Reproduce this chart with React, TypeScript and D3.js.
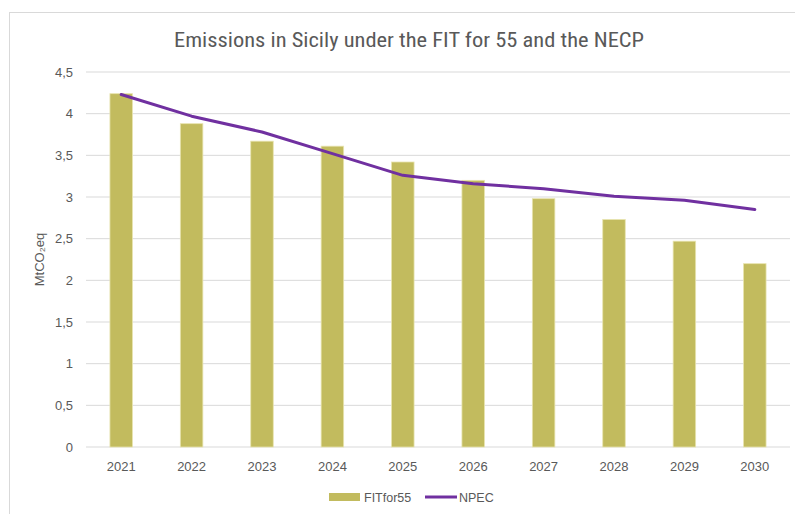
import React from "react";
import { scaleBand, scaleLinear, line } from "d3";

const years = ["2021", "2022", "2023", "2024", "2025", "2026", "2027", "2028", "2029", "2030"];
const fitFor55 = [4.24, 3.88, 3.67, 3.61, 3.42, 3.2, 2.98, 2.73, 2.47, 2.2];
const npec = [4.23, 3.97, 3.78, 3.52, 3.26, 3.16, 3.1, 3.01, 2.96, 2.85];
const yTicks = [0, 0.5, 1, 1.5, 2, 2.5, 3, 3.5, 4, 4.5];

const width = 795;
const height = 514;
const margin = { top: 72, right: 5, bottom: 67, left: 86 };
const innerWidth = width - margin.left - margin.right;
const innerHeight = height - margin.top - margin.bottom;

const titleFont = "'Liberation Sans Narrow', 'Roboto Condensed', Arial, sans-serif";
const font = "'Liberation Sans', Arial, sans-serif";
const textColor = "#595959";

const fmt = (v: number) => String(v).replace(".", ",");

export default function App() {
  const xScale = scaleBand().domain(years).range([0, innerWidth]).paddingInner(0.68).paddingOuter(0.34);
  const yScale = scaleLinear().domain([0, 4.5]).range([innerHeight, 0]);
  const cx = (y: string) => (xScale(y) as number) + xScale.bandwidth() / 2;

  const path = line<number>()
    .x((_, i) => cx(years[i]))
    .y((d) => yScale(d))(npec);

  return (
    <svg width={width} height={height} style={{ position: "absolute", left: 0, top: 0, background: "#fff" }}>
      <rect x={9.5} y={12.5} width={800} height={520} fill="#fff" stroke="#d9d9d9" />
      <text
        x={174}
        y={47}
        textLength={470}
        lengthAdjust="spacingAndGlyphs"
        fontFamily={titleFont}
        fontSize={20}
        fill={textColor}
      >
        Emissions in Sicily under the FIT for 55 and the NECP
      </text>
      <g transform={`translate(${margin.left},${margin.top})`}>
        {yTicks.map((t) => (
          <g key={t} transform={`translate(0,${yScale(t)})`}>
            <line x2={innerWidth} stroke="#d9d9d9" strokeWidth={1} />
            <text x={-13} dy="0.35em" textAnchor="end" fontFamily={font} fontSize={13} fill={textColor}>
              {fmt(t)}
            </text>
          </g>
        ))}
        {years.map((y, i) => (
          <rect
            key={y}
            x={xScale(y)}
            y={yScale(fitFor55[i])}
            width={xScale.bandwidth()}
            height={innerHeight - yScale(fitFor55[i])}
            fill="#c2bb5e"
            stroke="#e8e4b0"
            strokeWidth={0.8}
          />
        ))}
        {years.map((y) => (
          <text key={y} x={cx(y)} y={innerHeight + 24} textAnchor="middle" fontFamily={font} fontSize={13} fill={textColor}>
            {y}
          </text>
        ))}
        <path d={path || ""} fill="none" stroke="#7030a0" strokeWidth={3} strokeLinejoin="round" strokeLinecap="round" />
      </g>
      <text
        transform={`translate(44,${margin.top + innerHeight / 2}) rotate(-90)`}
        textAnchor="middle"
        fontFamily={font}
        fontSize={13}
        fill={textColor}
      >
        MtCO₂eq
      </text>
      <g fontFamily={font} fontSize={12.5} fill={textColor}>
        <rect x={329} y={493} width={31} height={8} fill="#c2bb5e" />
        <text x={364} y={501.5}>FITfor55</text>
        <line x1={425} x2={457} y1={497} y2={497} stroke="#7030a0" strokeWidth={3} />
        <text x={459} y={501.5}>NPEC</text>
      </g>
    </svg>
  );
}
